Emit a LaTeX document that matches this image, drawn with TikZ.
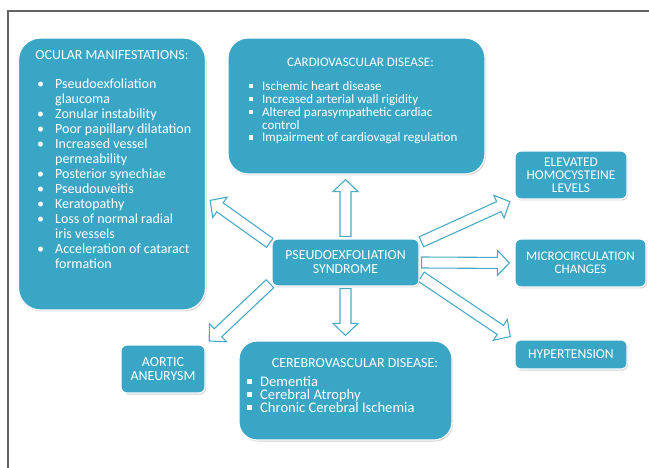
\documentclass[tikz,border=0pt]{standalone}
\usepackage{fontspec}
\setmainfont{Carlito}
\usetikzlibrary{calc,shadows,backgrounds}
\definecolor{boxc}{RGB}{58,166,197}
\definecolor{arrowc}{RGB}{74,170,198}
\definecolor{framec}{RGB}{100,100,100}
\newcommand\dotitem{\makebox[18pt][l]{\textbullet}}
\newcommand\sqitem{\makebox[13pt][l]{\rule[0.18em]{0.32em}{0.32em}}}
\newcommand\dotgap{\hspace*{18pt}}
\newcommand\sqgap{\hspace*{13pt}}

\begin{document}
\begin{tikzpicture}[x=1pt,y=-1pt,
  box/.style={fill=boxc, draw=white, line width=1.2pt, inner sep=0pt, text=white, align=center,
    font=\fontsize{13.6}{13}\selectfont,
    drop shadow={shadow xshift=1pt, shadow yshift=-1.5pt, opacity=0.35}},
  head/.style={text=white, inner sep=0pt, font=\fontsize{13.9}{14}\selectfont},
  list/.style={text=white, inner sep=0pt, align=left, anchor=north west},
  fat/.style={fill=white, draw=arrowc, line width=1.1pt, line join=miter,
    to path={($(\tikztostart)!2pt!(\tikztotarget)!5.5pt!90:(\tikztotarget)$)
      -- ($(\tikztotarget)!17pt!(\tikztostart)!5.5pt!-90:(\tikztostart)$)
      -- ($(\tikztotarget)!17pt!(\tikztostart)!12.5pt!-90:(\tikztostart)$)
      -- ($(\tikztotarget)!5pt!(\tikztostart)$)
      -- ($(\tikztotarget)!17pt!(\tikztostart)!12.5pt!90:(\tikztostart)$)
      -- ($(\tikztotarget)!17pt!(\tikztostart)!5.5pt!90:(\tikztostart)$)
      -- ($(\tikztostart)!2pt!(\tikztotarget)!5.5pt!-90:(\tikztotarget)$)
      -- cycle}}]
\useasboundingbox (0,0) rectangle (649,468);
\draw[framec, line width=1.8pt] (8,468) -- (8,11) -- (649,11);

\node[box, rounded corners=22pt, minimum width=187pt, minimum height=272pt] (ocular) at (112,174) {};
\node[box, rounded corners=20pt, minimum width=257pt, minimum height=136pt] (cardio) at (356.5,106) {};
\node[box, rounded corners=18pt, minimum width=213pt, minimum height=99pt] (cerebro) at (345.5,390.5) {};
\node[box, rounded corners=6pt, minimum width=147pt, minimum height=47pt, font=\fontsize{13.8}{14}\selectfont] (core) at (345.5,262.5) {PSEUDOEXFOLIATION\\SYNDROME};
\node[box, rounded corners=6pt, minimum width=112pt, minimum height=48pt, font=\fontsize{13.4}{13}\selectfont] (elevated) at (571,175) {ELEVATED\\HOMOCYSTEINE\\LEVELS};
\node[box, rounded corners=6pt, minimum width=131pt, minimum height=48pt, font=\fontsize{13.1}{13}\selectfont] (micro) at (580.5,263) {MICROCIRCULATION\\CHANGES};
\node[box, rounded corners=5pt, minimum width=112pt, minimum height=29pt] (hyper) at (571,354.5) {HYPERTENSION};
\node[box, rounded corners=6pt, minimum width=84pt, minimum height=48pt, font=\fontsize{13.9}{14}\selectfont] (aortic) at (163,369) {AORTIC\\ANEURYSM};

\node[head] (ocularhead) at (112,55) {OCULAR MANIFESTATIONS:};
\node[list, font=\fontsize{14}{15}\selectfont] (ocularlist) at (37,79) {\dotitem Pseudoexfoliation\\
\dotgap glaucoma\\
\dotitem Zonular instability\\
\dotitem Poor papillary dilatation\\
\dotitem Increased vessel\\
\dotgap permeability\\
\dotitem Posterior synechiae\\
\dotitem Pseudouveitis\\
\dotitem Keratopathy\\
\dotitem Loss of normal radial\\
\dotgap iris vessels\\
\dotitem Acceleration of cataract\\
\dotgap formation};
\node[head, font=\fontsize{13}{13}\selectfont] (cardiohead) at (360.5,62) {CARDIOVASCULAR DISEASE:};
\node[list, font=\fontsize{13}{12.8}\selectfont] (cardiolist) at (249,81.5) {\sqitem Ischemic heart disease\\
\sqitem Increased arterial wall rigidity\\
\sqitem Altered parasympathetic cardiac\\
\sqgap control\\
\sqitem Impairment of cardiovagal regulation};
\node[head, font=\fontsize{14}{14}\selectfont] (cerebrohead) at (355,363) {CEREBROVASCULAR DISEASE:};
\node[list, font=\fontsize{14.6}{13.2}\selectfont] (cerebrolist) at (247,376) {\sqitem Dementia\\
\sqitem Cerebral Atrophy\\
\sqitem Chronic Cerebral Ischemia};

\begin{scope}[on background layer]
\draw[fat] (core.north) to (core.north |- cardio.south);
\draw[fat] (core.south) to (core.south |- cerebro.north);
\draw[fat] (core.166) to (ocular.-14.5);
\draw[fat] (core.195) to (aortic.north east);
\draw[fat] (core.15) to (elevated.south west);
\draw[fat] (core.east) to (micro.west);
\draw[fat] (core.-10) to (hyper.north west);
\end{scope}
\end{tikzpicture}
\end{document}
